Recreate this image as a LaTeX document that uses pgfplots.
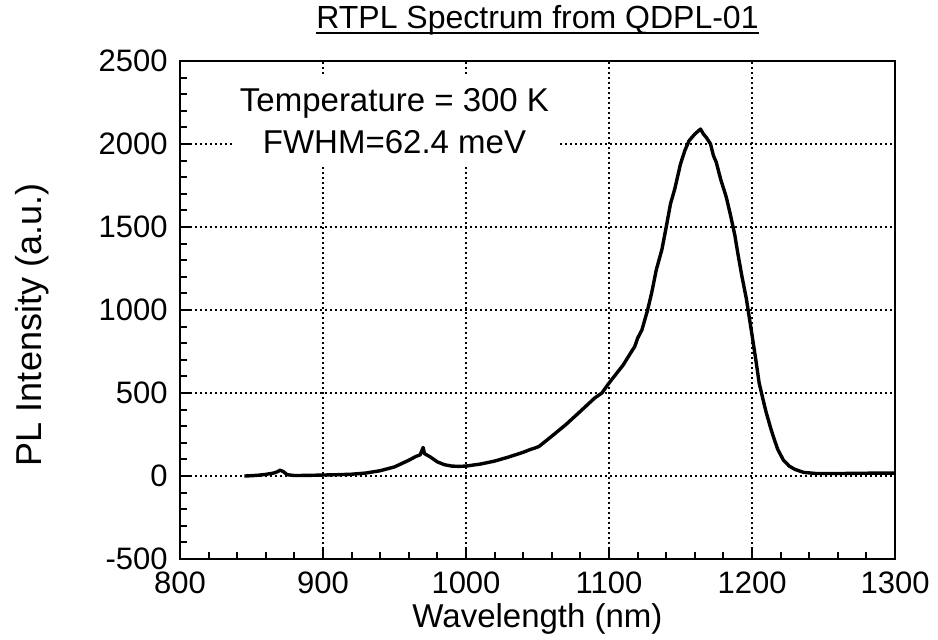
\documentclass[border=0pt]{standalone}
\usepackage{fontspec}
\setmainfont{Liberation Sans}
\usepackage{pgfplots}
\pgfplotsset{compat=1.18}
\newcommand{\ulbox}[1]{\vtop{\hbox{#1}\kern-1.8pt\hrule height 1.1pt}}
\begin{document}
\begin{tikzpicture}
\begin{axis}[
  scale only axis, width=357.5pt, height=249pt,
  xmin=800, xmax=1300, ymin=-500, ymax=2500,
  xtick={800,900,...,1300}, ytick={-500,0,...,2500},
  minor x tick num=4, minor y tick num=4,
  tick pos=left, tick align=inside,
  major tick length=5.5pt, minor tick length=3.5pt,
  grid=major,
  major grid style={black, line width=0.9pt, dash pattern=on 0.9pt off 1.6pt},
  axis line style={line width=1.1pt},
  every tick/.style={black, line width=1pt},
  /pgf/number format/assume math mode=true,
  /pgf/number format/1000 sep={},
  tick label style={font=\fontsize{15.5}{17}\selectfont},
  yticklabel style={anchor=east, inner sep=0pt, xshift=-6pt},
  xticklabel style={anchor=north, inner sep=0pt, yshift=-6pt},
  clip=false,
]
\addplot[black, line width=1.7pt, line join=round] coordinates {
(845,0) (850,2) (855,5) (860,10) (865,17) (868,25) (870,35) (872,28) (875,8)
(880,3) (890,4) (900,6) (910,8) (920,11) (930,18) (940,32) (950,55) (955,75)
(960,95) (965,118) (968,128) (970,172) (971,135) (975,115) (980,85) (985,68)
(990,60) (995,58) (1000,60) (1010,72) (1020,90) (1030,115) (1040,143) (1045,160)
(1048,168) (1051,178) (1060,240) (1070,311) (1080,390) (1090,470)
(1095,500) (1100,560) (1105,615) (1110,670) (1115,740) (1118,780) (1120,830)
(1123,880) (1127,1000) (1130,1110) (1133,1240) (1137,1365) (1140,1500)
(1143,1640) (1146,1730) (1150,1880) (1153,1960) (1156,2020) (1160,2060)
(1162,2075) (1164,2090) (1166,2060) (1168,2040) (1171,2000) (1173,1930)
(1175,1890) (1178,1790) (1182,1680) (1185,1570) (1188,1450) (1190,1345)
(1193,1200) (1196,1070) (1198,960) (1200,850) (1203,680) (1205,560) (1208,450)
(1210,380) (1213,290) (1215,235) (1218,160) (1222,95) (1226,60) (1230,40)
(1236,22) (1245,15) (1260,15) (1280,17) (1300,18)
};
\node[fill=white, inner sep=0pt, minimum width=162pt, minimum height=43.5pt,
  align=center, font=\fontsize{16.5}{21}\selectfont]
  at (axis cs:950,2139) {Temperature = 300 K\\FWHM=62.4 meV};
\node[anchor=base, inner sep=0pt, font=\fontsize{16}{18}\selectfont]
  at (rel axis cs:0.5,1) [yshift=16pt] {\ulbox{RTPL Spectrum from QDPL-01}};
\node[anchor=base, inner sep=0pt, font=\fontsize{16.5}{19}\selectfont]
  at (rel axis cs:0.5,0) [yshift=-34pt] {Wavelength (nm)};
\node[anchor=north, rotate=90, inner sep=0pt, font=\fontsize{18}{20}\selectfont]
  at (rel axis cs:-0.2308,0.47) {PL Intensity (a.u.)};
\coordinate (bbl) at (rel axis cs:-0.2517,-0.1606);
\coordinate (btr) at (rel axis cs:1.0601,1.1225);
\end{axis}
\pgfresetboundingbox
\path[use as bounding box] (bbl) rectangle (btr);
\end{tikzpicture}
\end{document}
